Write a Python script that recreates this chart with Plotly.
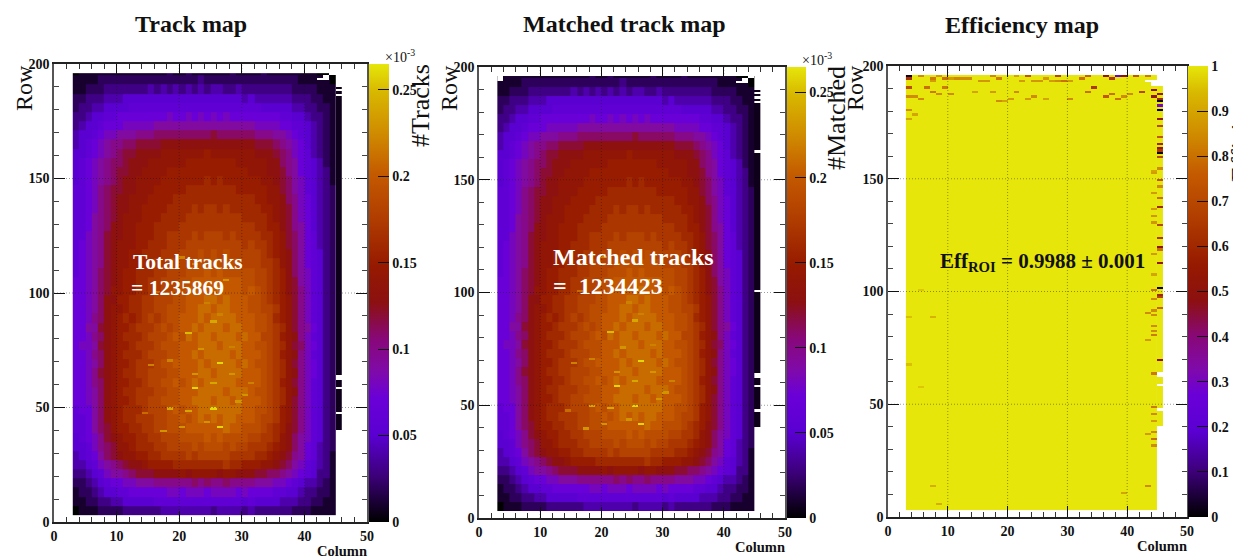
import plotly.graph_objects as go

W, H = 1233, 559

# ---- data ----
x_ticks = [0, 10, 20, 30, 40, 50]
y_ticks = [0, 50, 100, 150, 200]
track_ticks = [0, 0.05, 0.1, 0.15, 0.2, 0.25]
track_tick_text = ["0", "0.05", "0.1", "0.15", "0.2", "0.25"]
eff_ticks = [0, .1, .2, .3, .4, .5, .6, .7, .8, .9, 1]
eff_tick_text = ["0", "0.1", "0.2", "0.3", "0.4", "0.5", "0.6", "0.7", "0.8", "0.9", "1"]

column_edges = list(range(3, 46))
row_edges = list(range(3, 196, 4)) + [196]

# values in units of 0.01 x 10^-3; first list = lowest rows; matched map reads the same (99.88 %)
track_cells = [
 [0,1,1,1,2,2,2,2,3,3,3,3,3,3,4,4,4,4,4,4,4,4,3,4,4,4,4,3,4,3,3,3,3,3,3,2,2,2,1,1,1,1],
 [1,1,2,2,3,3,4,4,5,5,5,5,5,6,6,6,6,6,6,6,6,6,6,6,6,6,6,5,6,5,5,5,5,4,4,4,3,3,2,2,1,1],
 [1,2,2,3,4,5,5,6,6,7,7,7,7,7,7,8,8,7,8,8,8,7,8,8,8,8,7,8,7,7,7,7,6,6,5,5,4,3,3,2,2,1],
 [2,2,3,4,5,6,7,7,8,8,9,9,9,10,10,10,10,10,10,11,10,11,10,10,11,10,10,10,10,9,9,9,8,8,7,6,5,4,4,3,2,1],
 [3,3,4,5,6,8,9,9,10,11,12,12,12,13,13,13,13,14,13,14,14,14,14,13,14,14,13,13,13,12,12,11,11,10,9,8,7,6,5,3,3,1],
 [4,4,5,6,8,9,10,11,12,13,13,14,15,15,15,15,16,16,16,16,16,16,16,16,17,16,16,15,15,15,14,14,13,12,11,9,8,6,5,4,3,1],
 [4,5,6,7,9,11,12,13,14,14,15,15,16,16,17,17,17,17,18,17,18,18,18,18,18,17,17,17,17,16,16,15,14,13,12,10,9,7,6,4,3,1],
 [5,5,6,8,10,11,12,14,14,15,16,16,16,17,17,18,18,18,18,19,18,19,19,19,18,19,18,18,17,17,17,16,15,14,13,11,9,7,6,4,3,2],
 [5,6,7,8,10,12,13,14,15,15,16,16,17,17,18,18,18,19,19,19,19,20,19,20,19,19,19,19,18,18,17,17,16,14,13,11,9,8,6,5,3,2],
 [6,6,7,9,11,12,14,15,15,16,16,17,17,18,18,19,19,19,20,20,20,20,20,20,21,20,20,19,19,19,18,17,16,15,13,12,10,8,6,5,3,2],
 [6,6,7,9,11,13,14,15,16,16,17,17,17,18,18,19,19,20,19,20,21,20,21,20,21,21,20,20,20,19,18,18,17,15,14,12,10,8,6,5,3,2],
 [6,7,7,9,11,13,14,15,16,16,16,17,18,18,18,19,20,19,20,20,21,21,21,21,21,21,21,20,20,19,19,18,17,15,14,12,10,8,6,5,3,2],
 [7,7,8,9,11,13,14,15,15,16,17,17,18,18,19,19,19,20,20,21,21,21,20,21,21,20,21,20,20,20,19,18,17,16,14,12,10,8,6,5,3,2],
 [7,7,8,9,11,13,14,15,16,16,17,17,17,18,18,19,19,20,20,20,21,21,21,21,20,21,21,21,20,19,19,18,17,16,14,13,10,8,6,5,3,2],
 [7,7,8,10,11,13,14,15,15,16,16,17,18,18,19,19,20,19,20,21,20,21,21,21,21,21,20,20,20,20,19,18,17,15,14,12,10,8,6,5,3,2],
 [7,7,8,10,12,13,14,15,16,16,17,17,18,18,18,19,19,20,20,20,21,21,20,21,21,21,21,20,20,20,19,18,17,16,14,13,10,8,7,5,3,2],
 [7,7,8,9,11,13,14,15,15,16,17,17,17,18,19,19,20,20,20,20,21,20,21,21,21,21,20,21,20,19,19,18,17,16,14,12,10,8,7,5,3,2],
 [7,7,8,10,11,13,14,15,16,16,16,17,18,18,18,19,19,20,20,21,20,21,21,21,21,20,21,20,20,20,19,18,17,15,14,13,10,8,6,5,3,2],
 [7,8,8,9,12,13,14,15,15,16,17,17,17,18,19,19,19,20,20,20,21,21,21,20,21,21,21,20,20,19,19,18,17,16,14,12,11,8,7,5,3,2],
 [7,7,8,10,11,13,14,15,16,16,16,17,18,18,18,19,20,19,21,20,21,21,20,21,21,21,20,21,20,20,18,18,17,15,14,13,10,8,6,5,3,2],
 [7,7,9,9,12,13,14,15,15,16,17,17,17,18,19,18,19,20,20,21,20,21,21,21,20,21,21,20,20,19,19,18,17,16,14,12,10,9,7,5,3,2],
 [7,7,8,10,11,13,14,15,16,15,16,17,18,17,18,19,19,20,20,20,21,20,21,21,21,21,20,20,20,19,19,18,16,15,14,12,10,8,6,5,3,2],
 [7,7,8,9,11,13,14,14,15,16,16,17,17,18,18,19,19,19,20,20,21,21,20,21,21,20,20,20,19,19,18,18,17,15,14,12,10,8,6,5,3,2],
 [7,7,8,9,11,13,13,15,15,16,16,17,17,18,18,18,19,19,20,20,20,21,21,20,21,20,20,20,19,19,18,17,16,15,14,12,10,8,6,5,3,2],
 [7,7,8,9,11,12,14,14,15,15,16,16,17,17,18,18,19,19,20,20,20,20,20,21,20,20,20,19,20,19,18,17,16,15,13,12,10,8,6,5,3,2],
 [7,7,8,9,11,12,13,14,15,15,16,16,17,17,18,18,18,19,19,20,20,20,20,20,20,20,20,19,19,18,18,17,16,15,13,12,9,8,6,5,3,2],
 [6,7,8,9,11,12,13,14,15,15,16,16,16,17,17,18,18,18,19,19,19,20,19,20,19,19,19,19,19,18,18,17,16,15,13,11,9,8,6,5,3,2],
 [6,7,8,9,10,12,13,14,14,15,15,16,16,17,17,18,18,18,18,19,19,19,19,19,19,19,19,18,18,18,17,17,16,14,13,11,9,7,6,5,3,2],
 [6,7,8,9,10,12,13,14,14,15,15,16,16,16,17,17,17,18,18,18,19,18,19,18,19,18,18,18,18,18,17,16,15,14,13,11,9,7,6,5,3,2],
 [6,7,8,9,10,12,13,14,14,14,15,15,16,16,16,17,17,17,18,18,18,18,18,18,18,18,18,17,18,17,17,16,15,14,12,11,9,7,6,4,3,2],
 [6,6,8,9,10,12,13,13,14,14,15,15,15,16,16,17,17,17,17,18,17,18,18,18,17,18,17,17,17,17,16,16,15,14,12,11,9,7,6,4,3,2],
 [6,6,7,9,10,11,13,13,14,14,15,15,15,16,16,16,16,17,17,17,17,17,17,17,17,17,17,17,17,16,16,15,15,13,12,10,9,7,5,4,3,2],
 [6,6,7,9,10,11,12,13,14,14,14,15,15,15,16,16,16,16,17,17,17,17,17,17,17,17,17,16,16,16,16,15,14,13,12,10,8,7,5,4,3,2],
 [6,6,7,8,10,11,12,13,13,14,14,15,15,15,15,16,16,16,16,17,16,17,17,16,17,16,16,16,16,16,15,15,14,13,12,10,8,7,5,4,3,2],
 [6,6,7,8,10,11,12,13,13,14,14,14,15,15,15,15,16,16,16,16,16,16,16,16,16,16,16,16,16,15,15,14,14,13,11,10,8,7,5,4,3,2],
 [6,6,7,8,10,11,12,12,13,13,14,14,14,15,15,15,15,15,16,16,16,16,16,16,16,16,15,15,15,15,15,14,14,12,11,9,8,6,5,4,3,2],
 [5,6,7,8,9,10,11,12,13,13,14,14,14,14,15,15,15,15,15,15,15,16,15,16,15,15,15,15,15,15,14,14,13,12,11,9,8,6,5,4,3,1],
 [5,6,7,8,9,10,11,12,12,13,13,14,14,14,14,15,15,15,15,15,15,15,15,15,15,15,15,15,14,14,14,13,13,12,10,9,7,6,5,4,3,1],
 [5,6,7,8,9,10,11,11,12,13,13,13,14,14,14,14,14,14,15,15,15,15,15,15,15,15,14,14,14,14,14,13,13,11,10,9,7,6,5,4,2,1],
 [5,5,6,7,8,9,10,11,12,12,13,13,13,13,14,14,14,14,14,14,14,15,14,14,14,14,14,14,14,13,13,13,12,11,10,8,7,6,4,3,2,1],
 [4,5,6,7,8,9,10,10,11,11,12,12,12,12,13,13,13,13,13,13,13,13,13,13,13,13,13,13,13,12,12,12,11,10,9,8,7,5,4,3,2,1],
 [4,5,5,6,7,8,8,9,9,9,10,10,10,11,11,11,11,11,11,11,11,11,12,11,11,11,11,11,11,10,10,10,9,9,8,7,6,5,4,3,2,1],
 [3,4,5,5,6,7,7,7,8,8,8,8,8,9,9,9,9,9,9,9,9,9,9,9,9,9,9,9,9,8,8,8,8,7,7,6,6,5,4,3,2,1],
 [3,3,4,5,5,6,6,7,7,7,7,7,7,7,7,8,7,7,8,7,8,7,8,7,8,7,7,7,7,7,7,7,7,6,6,5,5,4,3,3,2,1],
 [2,3,3,4,4,5,5,5,5,6,6,6,6,6,6,6,6,6,6,6,6,6,6,6,6,6,6,6,6,6,5,5,5,5,5,4,4,3,3,2,2,1],
 [2,2,3,3,3,4,4,4,5,5,5,5,5,5,5,5,5,5,5,5,5,5,5,5,5,5,5,4,5,4,4,4,4,4,4,3,3,3,2,2,1,1],
 [1,1,2,2,2,3,3,3,3,3,3,3,4,3,4,3,4,3,4,3,4,3,4,4,3,3,4,3,3,3,3,3,3,3,3,2,2,2,2,1,1,1],
 [1,1,1,1,2,2,2,2,2,2,2,2,2,2,2,2,2,2,2,2,3,2,2,2,2,2,2,2,2,2,2,2,2,2,2,2,1,1,1,1,1,0],
 [0,1,1,1,1,1,1,1,1,1,1,1,1,1,1,2,1,1,2,1,1,1,1,1,1,2,1,1,1,1,2,1,1,1,1,1,1,1,1,0,0,0],
]

# single bright pixels: (column, row, value)
hot_pixels = [(26,69,.26),(22,58,.26),(21,82,.25),(25,87,.24),(25,49,.26),(18,49,.24),(26,41,.26),
              (21,48,.24),(25,60,.24),(30,55,.23),(29,52,.23),(26,90,.22),(28,64,.23),(17,39,.23),
              (20,41,.23),(23,75,.23),(18,70,.22),(22,64,.23),(24,95,.22),(15,68,.22),(28,76,.22),
              (20,115,.22),(22,112,.22),(27,105,.23),(16,100,.21),(24,43,.23),(31,60,.22),(14,47,.21)]

# last column, nearly empty: (first row, last row + 1)
track_strip = [(40,47),(48,58),(59,62),(64,186),(187,188),(189,190)]
matched_strip = [(40,47),(48,58),(59,62),(64,100),(101,162),(163,184),(185,186),(187,188),(189,190)]
track_white = [(43,193),(43,194),(44,195),(42,193)]
matched_white = [(43,193),(43,194),(44,195),(42,193),(3,195),(3,194)]

eff_base = [[1.0]]
eff_strip = [(40,47),(48,58),(59,62),(64,191)]
eff_white = [(43,193),(44,193),(44,192),(44,191)]
eff_pixels = [
 (3,195,.02),(3,194,.62),(5,195,.85),(7,194,.82),(7,193,.88),(8,195,.88),(9,194,.8),(10,194,.88),(11,194,.84),
 (12,194,.85),(13,194,.85),(15,193,.87),(16,193,.87),(17,195,.85),(18,194,.82),(21,195,.9),(22,193,.88),(23,195,.75),
 (24,193,.87),(25,193,.87),(26,194,.88),(27,193,.88),(28,193,.85),(29,193,.8),(28,195,.7),(30,193,.88),(32,194,.8),
 (33,195,.78),(36,195,.55),(37,194,.65),(38,195,.28),(39,195,.5),(41,195,.75),(43,195,.82),
 (3,190,.72),(3,186,.85),(4,186,.85),(5,185,.85),(6,190,.8),(7,188,.82),(8,187,.85),(9,190,.82),(10,187,.85),
 (14,188,.9),(17,188,.88),(18,184,.85),(19,184,.9),(20,185,.88),(21,188,.85),(23,185,.88),(24,186,.85),(26,185,.9),
 (30,185,.85),(33,188,.8),(34,190,.65),(36,186,.75),(37,187,.8),(38,185,.8),(39,186,.85),(40,187,.85),(42,188,.7),
 (44,189,.5),(45,187,.55),(44,186,.55),(45,185,.6),(45,184,.02),(45,182,.3),(45,180,.02),(3,180,.85),(4,178,.9),
 (3,176,.9),(45,176,.55),(45,173,.7),(45,168,.75),(45,165,.6),(45,163,.55),(45,162,.65),(45,161,.02),(45,159,.7),
 (45,154,.85),(44,153,.9),(44,152,.88),(45,149,.75),(45,146,.85),(44,143,.88),(45,141,.8),(45,137,.6),(44,136,.88),
 (44,133,.87),(44,130,.87),(45,129,.7),(45,123,.65),(45,119,.5),(45,118,.8),(44,116,.88),(45,112,.55),(44,107,.9),
 (45,101,.02),(44,100,.8),(45,98,.6),(45,97,.68),(44,96,.85),(45,92,.78),(44,91,.85),(43,90,.85),(44,89,.85),
 (7,88,.93),(44,84,.85),(44,82,.85),(44,80,.82),(43,78,.88),(45,69,.5),(44,63,.82),(44,48,.82),(44,45,.85),(44,42,.88),
 (44,37,.85),(43,36,.88),(44,34,.8),(44,31,.85),(43,13,.85),(7,13,.92),(39,10,.9),(8,5,.92),(5,100,.96),(3,88,.95),
 (3,67,.95),(5,57,.96),
]

# ---- styles ----
SERIF = "Liberation Serif"
PALETTE = [[0, "#000000"], [.1, "#3c0078"], [.19, "#5a00d2"], [.27, "#6a00d8"], [.33, "#800aa8"], [.4, "#880878"],
           [.48, "#8c1010"], [.56, "#961a00"], [.66, "#b03c00"], [.76, "#c45a00"], [.85, "#d08c00"], [.94, "#d8b800"],
           [1, "#e6e60a"]]
WHITE = [[0, "#ffffff"], [1, "#ffffff"]]
COL_EDGES = list(range(3, 47))
ROW_EDGES = list(range(3, 198))

def px(v): return v / W
def py(v): return 1 - v / H

def fine_grid(cells):
    grid = [[None] * (len(COL_EDGES) - 1) for _ in range(len(ROW_EDGES) - 1)]
    for c, r, v in cells:
        grid[r - 3][c - 3] = v
    return grid

def strip_cells(spans, value):
    return [(45, r, value) for a, b in spans for r in range(a, b)]

panels = [
    dict(left=54, right=367, top=64, bottom=522, cb=(369, 389), zmax=.265, ticks=track_ticks, text=track_tick_text),
    dict(left=479, right=785, top=67, bottom=518, cb=(787, 806), zmax=.265, ticks=track_ticks, text=track_tick_text),
    dict(left=888, right=1187, top=66, bottom=517, cb=(1188, 1208), zmax=1, ticks=eff_ticks, text=eff_tick_text),
]

fig = go.Figure()
tracks = [[v / 100 for v in row] for row in track_cells]

for i, (strip, white) in enumerate([(track_strip, track_white), (matched_strip, matched_white)]):
    ax = dict(xaxis="x" if i == 0 else "x2", yaxis="y" if i == 0 else "y2")
    ca = "coloraxis" if i == 0 else "coloraxis2"
    fig.add_trace(go.Heatmap(x=column_edges, y=row_edges, z=tracks, coloraxis=ca, **ax))
    fig.add_trace(go.Heatmap(x=COL_EDGES, y=ROW_EDGES, z=fine_grid(hot_pixels + strip_cells(strip, .006)), coloraxis=ca, **ax))
    fig.add_trace(go.Heatmap(x=COL_EDGES, y=ROW_EDGES, z=fine_grid([(c, r, 1) for c, r in white]),
                             colorscale=WHITE, showscale=False, **ax))

ax3 = dict(xaxis="x3", yaxis="y3")
fig.add_trace(go.Heatmap(x=[3, 45], y=[3, 196], z=eff_base, coloraxis="coloraxis3", **ax3))
fig.add_trace(go.Heatmap(x=COL_EDGES, y=ROW_EDGES, z=fine_grid(strip_cells(eff_strip, 1.0)), coloraxis="coloraxis3", **ax3))
fig.add_trace(go.Heatmap(x=COL_EDGES, y=ROW_EDGES, z=fine_grid([(c, r, 1) for c, r in eff_white]),
                         colorscale=WHITE, showscale=False, **ax3))
fig.add_trace(go.Heatmap(x=COL_EDGES, y=ROW_EDGES, z=fine_grid(eff_pixels), coloraxis="coloraxis3", **ax3))

layout = dict(width=W, height=H, margin=dict(l=0, r=0, t=0, b=0, autoexpand=False),
              paper_bgcolor="white", plot_bgcolor="white", showlegend=False,
              font=dict(family=SERIF, color="#111111"))
tickfont = dict(family=SERIF, size=14, color="#111111", weight="bold")
shapes = []
for i, p in enumerate(panels):
    s = "" if i == 0 else str(i + 1)
    layout["xaxis" + s] = dict(domain=[px(p["left"]), px(p["right"])], range=[0, 50], anchor="y" + s,
        tickvals=x_ticks, ticks="inside", ticklen=11, tickcolor="#111111", showgrid=False, zeroline=False,
        showline=True, linecolor="#222222", linewidth=1.5, mirror="ticks", tickfont=tickfont, layer="above traces",
        minor=dict(dtick=2, ticks="inside", ticklen=5, tickcolor="#333333", showgrid=False))
    layout["yaxis" + s] = dict(domain=[py(p["bottom"]), py(p["top"])], range=[0, 200], anchor="x" + s,
        tickvals=y_ticks, ticks="inside", ticklen=11, tickcolor="#111111", showgrid=False, zeroline=False,
        showline=True, linecolor="#555555", linewidth=1.5, mirror="ticks", tickfont=tickfont, layer="above traces",
        minor=dict(dtick=10, ticks="inside", ticklen=5, tickcolor="#444444", showgrid=False))
    layout["coloraxis" + s] = dict(cmin=0, cmax=p["zmax"], colorscale=PALETTE, colorbar=dict(
        x=px(p["cb"][0]), xanchor="left", xpad=0, y=py(p["top"]), yanchor="top", ypad=0,
        lenmode="pixels", len=p["bottom"] - p["top"], thicknessmode="pixels", thickness=p["cb"][1] - p["cb"][0],
        outlinewidth=0, tickvals=p["ticks"], ticktext=p["text"], ticks="inside", ticklen=11, tickcolor="#111111",
        tickfont=dict(family=SERIF, size=14, color="#111111", weight="bold")))
    grid_line = dict(color="rgba(20,20,20,0.6)", width=0.7, dash="1px,2px")
    for t in x_ticks[1:-1]:
        shapes.append(dict(type="line", xref="x" + s, yref="y" + s, x0=t, x1=t, y0=0, y1=200, layer="above", line=grid_line))
    for t in y_ticks[1:-1]:
        shapes.append(dict(type="line", xref="x" + s, yref="y" + s, x0=0, x1=50, y0=t, y1=t, layer="above", line=grid_line))
layout["shapes"] = shapes
fig.update_layout(**layout)

def note(text, x, y, size, color="#111111", bold=True, angle=0, anchor="center"):
    fig.add_annotation(text=text, xref="paper", yref="paper", x=px(x), y=py(y), xanchor=anchor, yanchor="middle",
                       showarrow=False, textangle=angle, borderpad=0,
                       font=dict(family=SERIF, size=size, color=color, weight="bold" if bold else "normal"))

note("Track map", 191, 24, 24)
note("Matched track map", 624, 24, 24)
note("Efficiency map", 1022, 25, 24)
note("Row", 24, 88, 24, bold=False, angle=-90)
note("Row", 449, 88, 24, bold=False, angle=-90)
note("Row", 855, 88, 24, bold=False, angle=-90)
note("#Tracks", 420, 105, 26, bold=False, angle=-90)
note("#Matched", 836, 118, 26, bold=False, angle=-90)
note("Efficiency", 1241, 128, 26, bold=False, angle=-90)
note("Column", 368, 551, 14.5, anchor="right")
note("Column", 786, 547, 14.5, anchor="right")
note("Column", 1188, 546, 14.5, anchor="right")
note("×10<sup>-3</sup>", 400, 56, 14, bold=False)
note("×10<sup>-3</sup>", 817, 59, 14, bold=False)
note("Total tracks", 132, 262, 21.5, color="white", anchor="left")
note("= 1235869", 130, 288, 21.5, color="white", anchor="left")
note("Matched tracks", 552, 257, 24, color="white", anchor="left")
note("=  1234423", 552, 286, 24, color="white", anchor="left")
note("Eff<sub>ROI</sub> = 0.9988 ± 0.001", 939, 262, 21, anchor="left")

fig.write_html("out.html", config=dict(displayModeBar=False),
               post_script="document.body.style.margin='0';document.body.style.overflow='hidden';")
